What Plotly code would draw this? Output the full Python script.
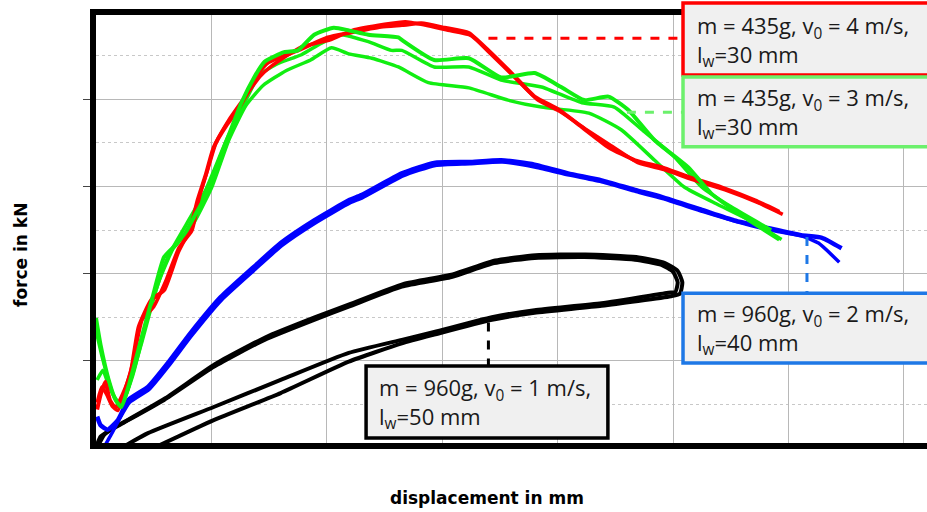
import plotly.graph_objects as go

# displacement (grid units) / force (grid units)
red_a_x = [0.01, 0.04, 0.08, 0.12, 0.17, 0.23, 0.30, 0.37, 0.48, 0.59, 0.71, 0.82, 0.88, 0.95, 1.02, 1.13, 1.23, 1.41, 1.49, 1.75, 2.01, 2.19, 2.47, 2.65, 2.82, 3.02, 3.23, 3.40, 3.60, 3.80, 4.01, 4.21, 4.44, 4.67, 4.90, 5.13, 5.42, 5.71, 5.92]
red_a_y = [0.44, 0.61, 0.76, 0.55, 0.46, 0.61, 0.86, 1.39, 1.70, 1.81, 2.24, 2.53, 2.84, 3.13, 3.45, 3.70, 3.88, 4.30, 4.42, 4.56, 4.71, 4.76, 4.83, 4.85, 4.87, 4.82, 4.76, 4.56, 4.30, 4.03, 3.88, 3.68, 3.45, 3.30, 3.22, 3.11, 2.99, 2.84, 2.71]
red_b_x = [0.01, 0.05, 0.09, 0.14, 0.19, 0.25, 0.32, 0.40, 0.50, 0.60, 0.72, 0.83, 0.90, 0.97, 1.04, 1.15, 1.25, 1.42, 1.52, 1.78, 2.03, 2.22, 2.50, 2.68, 2.85, 3.05, 3.25, 3.42, 3.62, 3.82, 4.03, 4.24, 4.46, 4.70, 4.93, 5.16, 5.45, 5.74, 5.95]
red_b_y = [0.52, 0.70, 0.62, 0.48, 0.43, 0.66, 0.98, 1.47, 1.62, 1.90, 2.30, 2.49, 2.90, 3.20, 3.50, 3.76, 3.95, 4.26, 4.38, 4.60, 4.68, 4.79, 4.86, 4.89, 4.85, 4.79, 4.73, 4.52, 4.26, 4.00, 3.85, 3.66, 3.47, 3.27, 3.19, 3.08, 2.96, 2.81, 2.68]

green_a_x = [0.00, 0.04, 0.11, 0.17, 0.22, 0.28, 0.39, 0.49, 0.59, 0.69, 0.78, 0.85, 0.94, 1.11, 1.26, 1.37, 1.46, 1.63, 1.75, 1.89, 2.06, 2.19, 2.36, 2.62, 2.65, 2.93, 3.23, 3.51, 3.80, 4.03, 4.23, 4.44, 4.61, 4.84, 5.13, 5.33, 5.59, 5.92]
green_a_y = [1.49, 1.18, 0.78, 0.55, 0.47, 0.70, 1.24, 1.73, 2.19, 2.33, 2.48, 2.65, 2.87, 3.45, 3.96, 4.25, 4.43, 4.54, 4.56, 4.74, 4.82, 4.79, 4.74, 4.71, 4.68, 4.45, 4.47, 4.25, 4.30, 4.14, 3.99, 4.03, 3.88, 3.53, 3.22, 2.92, 2.67, 2.39]
green_b_x = [0.01, 0.06, 0.11, 0.20, 0.26, 0.39, 0.52, 0.63, 0.78, 0.95, 1.13, 1.30, 1.41, 1.56, 1.78, 1.95, 2.12, 2.36, 2.56, 2.65, 2.93, 3.23, 3.51, 3.86, 4.21, 4.49, 4.73, 5.01, 5.25, 5.51, 5.85]
green_b_y = [0.78, 0.89, 0.72, 0.49, 0.61, 1.18, 1.81, 2.21, 2.56, 2.96, 3.53, 3.99, 4.27, 4.40, 4.51, 4.64, 4.74, 4.66, 4.56, 4.56, 4.37, 4.37, 4.22, 4.14, 3.96, 3.91, 3.65, 3.34, 2.99, 2.76, 2.50]
green_c_x = [0.00, 0.06, 0.15, 0.22, 0.32, 0.43, 0.55, 0.67, 0.82, 1.00, 1.15, 1.30, 1.45, 1.65, 1.86, 2.04, 2.19, 2.39, 2.62, 2.88, 3.23, 3.57, 3.86, 4.27, 4.55, 4.84, 5.10, 5.36, 5.71, 5.94]
green_c_y = [1.35, 1.01, 0.61, 0.49, 0.84, 1.41, 1.93, 2.29, 2.52, 2.98, 3.53, 3.93, 4.16, 4.33, 4.45, 4.59, 4.52, 4.47, 4.37, 4.19, 4.13, 3.99, 3.91, 3.84, 3.65, 3.30, 2.99, 2.81, 2.58, 2.39]

blue_a_x = [0.01, 0.04, 0.10, 0.19, 0.28, 0.45, 0.62, 0.82, 1.08, 1.37, 1.60, 1.89, 2.19, 2.30, 2.65, 2.93, 3.23, 3.51, 3.80, 4.09, 4.38, 4.67, 4.90, 5.25, 5.53, 5.83, 6.11, 6.29, 6.46]
blue_a_y = [0.36, 0.26, 0.21, 0.32, 0.55, 0.70, 0.97, 1.32, 1.73, 2.08, 2.35, 2.61, 2.84, 2.90, 3.15, 3.27, 3.28, 3.30, 3.25, 3.15, 3.07, 2.96, 2.88, 2.73, 2.61, 2.52, 2.44, 2.41, 2.29]
blue_b_x = [0.07, 0.13, 0.19, 0.29, 0.46, 0.63, 0.83, 1.09, 1.38, 1.61, 1.90, 2.20, 2.31, 2.66, 2.94, 3.24, 3.52, 3.81, 4.10, 4.39, 4.68, 4.91, 5.26, 5.54, 5.84, 6.12, 6.26, 6.44]
blue_b_y = [0.01, 0.15, 0.30, 0.52, 0.67, 0.94, 1.29, 1.70, 2.05, 2.32, 2.58, 2.81, 2.87, 3.12, 3.24, 3.26, 3.28, 3.22, 3.13, 3.05, 2.94, 2.86, 2.71, 2.60, 2.50, 2.43, 2.35, 2.13]

black_a_x = [0.00, 0.04, 0.13, 0.24, 0.59, 1.02, 1.46, 1.89, 2.19, 2.65, 3.08, 3.45, 3.80, 4.23, 4.67, 4.90, 5.00, 5.04, 5.02, 4.96, 4.38, 3.80, 3.43, 2.93, 2.65, 2.19, 1.60, 1.02, 0.45, 0.22]
black_a_y = [0.01, 0.13, 0.21, 0.29, 0.55, 0.93, 1.24, 1.47, 1.62, 1.85, 1.96, 2.12, 2.18, 2.19, 2.16, 2.10, 2.02, 1.90, 1.79, 1.78, 1.66, 1.58, 1.50, 1.33, 1.24, 1.09, 0.78, 0.47, 0.17, 0.00]
black_b_x = [0.02, 0.07, 0.15, 0.26, 0.60, 1.03, 1.47, 1.90, 2.20, 2.66, 3.09, 3.46, 3.81, 4.24, 4.68, 4.93, 5.04, 5.08, 5.06, 4.98, 4.38, 3.80, 3.43, 2.93, 2.65, 2.19, 1.60, 1.02, 0.50]
black_b_y = [0.03, 0.15, 0.23, 0.31, 0.57, 0.96, 1.27, 1.50, 1.65, 1.88, 1.99, 2.15, 2.21, 2.22, 2.19, 2.12, 2.03, 1.90, 1.77, 1.74, 1.63, 1.55, 1.47, 1.30, 1.20, 0.99, 0.63, 0.32, 0.00]

labels = [
    "m = 435g, v<sub>0</sub> = 4 m/s,<br>l<sub>w</sub>=30 mm",
    "m = 435g, v<sub>0</sub> = 3 m/s,<br>l<sub>w</sub>=30 mm",
    "m = 960g, v<sub>0</sub> = 2 m/s,<br>l<sub>w</sub>=40 mm",
    "m = 960g, v<sub>0</sub> = 1 m/s,<br>l<sub>w</sub>=50 mm",
]
x_title = "displacement in mm"
y_title = "force in kN"

RED = "#ff0000"
GREEN = "#11ee11"
GREEN_LIGHT = "#6cf06c"
BLUE = "#0000ff"
BLUE_BOX = "#1e78e6"
BLACK = "#000000"

fig = go.Figure()
series = [
    (black_a_x, black_a_y, BLACK, 4),
    (black_b_x, black_b_y, BLACK, 4),
    (blue_a_x, blue_a_y, BLUE, 4.5),
    (blue_b_x, blue_b_y, BLUE, 3.5),
    (green_c_x, green_c_y, GREEN, 3.5),
    (green_b_x, green_b_y, GREEN, 3.5),
    (red_a_x, red_a_y, RED, 4),
    (red_b_x, red_b_y, RED, 3.5),
    (green_a_x, green_a_y, GREEN, 4),
]
for xs, ys, c, w in series:
    fig.add_trace(go.Scatter(x=xs, y=ys, mode="lines",
                             line=dict(color=c, width=w, shape="spline", smoothing=0.5),
                             showlegend=False, hoverinfo="skip"))

# leader lines (data coordinates), extending into the boxes which cover them
leaders = [
    (3.40, 4.70, 5.20, 4.70, RED),
    (4.60, 3.85, 5.20, 3.85, GREEN_LIGHT),
    (6.16, 2.42, 6.16, 1.65, BLUE_BOX),
    (3.40, 1.44, 3.40, 0.85, BLACK),
]
for x0, y0, x1, y1, c in leaders:
    fig.add_shape(type="line", xref="x", yref="y", x0=x0, y0=y0, x1=x1, y1=y1,
                  line=dict(color=c, width=3, dash="dash"), layer="above")

# boxes (paper coordinates)
boxes = [
    (0.7064, 0.860, 1.10, 1.028, RED, labels[0], 0.7208, 0.940),
    (0.7064, 0.692, 1.10, 0.855, GREEN_LIGHT, labels[1], 0.7208, 0.772),
    (0.7064, 0.187, 1.10, 0.350, BLUE_BOX, labels[2], 0.7208, 0.267),
    (0.325, 0.0117, 0.616, 0.180, BLACK, labels[3], 0.338, 0.094),
]
for x0, y0, x1, y1, c, txt, tx, ty in boxes:
    fig.add_shape(type="rect", xref="paper", yref="paper", x0=x0, y0=y0, x1=x1, y1=y1,
                  line=dict(color=c, width=3.5), fillcolor="#f0f0f0", layer="above")
    fig.add_annotation(xref="paper", yref="paper", x=tx, y=ty, text=txt, showarrow=False,
                       xanchor="left", yanchor="middle", align="left",
                       font=dict(family="Open Sans", size=22, color="#1a1a1a"))

# axis titles
fig.add_annotation(xref="paper", yref="paper", x=(487 - 96) / 831, y=(443 - 498) / 428,
                   text="<b>%s</b>" % x_title, showarrow=False, xanchor="center", yanchor="middle",
                   font=dict(family="DejaVu Sans", size=17, color="black"))
fig.add_annotation(xref="paper", yref="paper", x=(21 - 96) / 831, y=(443 - 255) / 428,
                   text="<b>%s</b>" % y_title, showarrow=False, xanchor="center", yanchor="middle",
                   textangle=-90, font=dict(family="DejaVu Sans", size=17, color="black"))

fig.update_layout(
    width=927, height=512,
    margin=dict(l=96, r=0, t=15, b=69),
    plot_bgcolor="white", paper_bgcolor="white",
    font=dict(family="DejaVu Sans", color="black"),
)
fig.update_xaxes(range=[0, 7.20], dtick=1, tick0=0, showticklabels=False,
                 showgrid=True, gridcolor="#b8b8b8", gridwidth=1,
                 showline=True, linecolor="black", linewidth=6, mirror=True,
                 ticks="", zeroline=False)
fig.update_yaxes(range=[0.057, 4.966], dtick=1, tick0=0, showticklabels=False,
                 showgrid=True, gridcolor="#b8b8b8", gridwidth=1,
                 minor=dict(dtick=0.5, tick0=0, showgrid=True, gridcolor="#c8c8c8", griddash="dot", gridwidth=1),
                 showline=True, linecolor="black", linewidth=6, mirror=False,
                 ticks="outside", ticklen=7, tickcolor="#444444", tickwidth=1, zeroline=False)

fig.write_html("out.html")
